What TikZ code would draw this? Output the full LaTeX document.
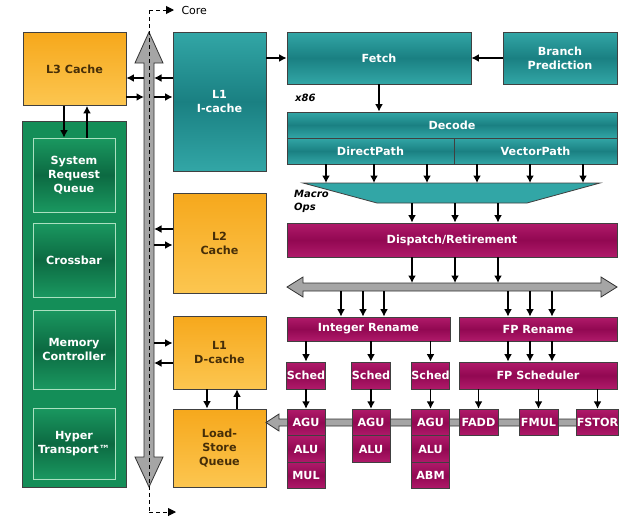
\documentclass[tikz,border=0pt]{standalone}
\usepackage{fontspec}
\setmainfont{DejaVu Sans}
\usepackage{tikz}
\usetikzlibrary{arrows.meta}
\definecolor{tealL}{RGB}{50,166,166}
\definecolor{tealD}{RGB}{26,128,130}
\definecolor{magL}{RGB}{176,26,106}
\definecolor{magD}{RGB}{146,8,82}
\definecolor{orgT}{RGB}{246,168,28}
\definecolor{orgB}{RGB}{252,198,80}
\definecolor{orgtext}{RGB}{70,46,8}
\definecolor{grnO}{RGB}{20,142,88}
\definecolor{grnL}{RGB}{26,152,96}
\definecolor{grnD}{RGB}{12,106,66}
\definecolor{grnrim}{RGB}{170,224,192}
\definecolor{busgray}{RGB}{165,165,165}
\newcommand{\blkfont}{\fontsize{11.2}{14}\selectfont\bfseries}

\begin{document}
\begin{tikzpicture}[x=1pt,y=-1pt,
 blk/.style={draw=black!75,line width=0.8pt,inner sep=0pt,align=center,font=\blkfont},
 tealblk/.style={blk,top color=tealL,bottom color=tealL,middle color=tealD,text=white},
 magblk/.style={blk,top color=magL,bottom color=magL,middle color=magD,text=white},
 orgblk/.style={blk,top color=orgT,bottom color=orgB,text=orgtext},
 grnblk/.style={blk,draw=grnrim,top color=grnL,bottom color=grnL,middle color=grnD,text=white},
 unit/.style={magblk,minimum width=38,minimum height=26.5},
 arr/.style={-{Latex[length=7.5pt,width=8pt]},line width=1.5pt},
 bus/.style={fill=busgray,draw=black!80,line width=0.8pt},
 dsh/.style={line width=1pt,dash pattern=on 4pt off 3pt},
 tag/.style={font=\fontsize{10}{13}\selectfont\bfseries\itshape,align=left,inner sep=0pt}]
\fill[white] (0,0) rectangle (640,520);
\useasboundingbox (0,0) rectangle (640,520);
% left column
\node[orgblk,minimum width=103,minimum height=73] (l3) at (74.5,69) {L3 Cache};
\node[blk,fill=grnO,minimum width=104,minimum height=366] (grn) at (74.5,304) {};
\node[grnblk,minimum width=82,minimum height=74] (srq) at (74,175) {System\\Request\\Queue};
\node[grnblk,minimum width=82,minimum height=74] (xbar) at (74,260) {Crossbar};
\node[grnblk,minimum width=82,minimum height=79] (mctl) at (74,349.5) {Memory\\Controller};
\node[grnblk,minimum width=82,minimum height=71] (ht) at (74,443.5) {Hyper\\Transport™};
\draw[arr] ([xshift=-10.5pt]l3.south) -- ([xshift=-10pt]srq.north);
\draw[arr] ([xshift=13pt]srq.north) -- ([xshift=12.5pt]l3.south);
% core bus
\draw[bus] (149,32) -- (163,63) -- (154,63) -- (154,457) -- (163,457) -- (149,487)
 -- (135,457) -- (144,457) -- (144,63) -- (135,63) -- cycle;
\coordinate (busL) at (144,0);
\coordinate (busR) at (154,0);
\draw[dsh] (149,10) -- (149,512);
\draw[dsh,-{Triangle[length=8pt,width=8pt]}] (149,10) -- (174,10) node[right=7pt,inner sep=0pt,font=\fontsize{11}{13}\selectfont] (core) {Core};
\coordinate (coreout) at (176,512);
\draw[dsh,-{Triangle[length=8pt,width=8pt]}] (149,512) -- (coreout);
% caches
\node[tealblk,minimum width=93,minimum height=139] (icache) at (219.5,101.5) {L1\\I-cache};
\node[orgblk,minimum width=93,minimum height=100] (l2) at (219.5,243) {L2\\Cache};
\node[orgblk,minimum width=93,minimum height=73] (dcache) at (219.5,352.5) {L1\\D-cache};
\node[orgblk,minimum width=93,minimum height=78] (lsq) at (219.5,448) {Load-\\Store\\Queue};
\draw[arr] (busL |- 0,78) -- (l3.east |- 0,78);
\draw[arr] (l3.east |- 0,97) -- (busL |- 0,97);
\foreach \y in {78,229,363}
 \draw[arr] (icache.west |- 0,\y) -- (busR |- 0,\y);
\foreach \y in {97,245,343}
 \draw[arr] (busR |- 0,\y) -- (icache.west |- 0,\y);
\draw[arr] ([xshift=-12.5pt]dcache.south) -- ([xshift=-12.5pt]lsq.north);
\draw[arr] ([xshift=17.5pt]lsq.north) -- ([xshift=17.5pt]dcache.south);
% front end
\node[tealblk,minimum width=184,minimum height=52] (fetch) at (379,58) {Fetch};
\node[tealblk,minimum width=114,minimum height=52] (bp) at (560,58) {Branch\\Prediction};
\draw[arr] (icache.east |- fetch) -- (fetch.west);
\draw[arr] (bp.west) -- (fetch.east);
\node[tag,anchor=west] (x86) at (295,98) {x86};
\node[tealblk,minimum width=330,minimum height=26] (decode) at (452,125) {Decode};
\node[tealblk,minimum width=167,minimum height=26] (dpath) at (370.5,151) {DirectPath};
\node[tealblk,minimum width=163,minimum height=26] (vpath) at (535.5,151) {VectorPath};
\draw[arr] (fetch.south |- fetch.south) -- (fetch.south |- decode.north);
\draw[blk,middle color=tealD,top color=tealL,bottom color=tealL] (303,183) -- (600,183) -- (527,203) -- (377,203) -- cycle;
\coordinate (mtop) at (0,183);
\coordinate (mbot) at (0,203);
\node[tag,anchor=north west] (mops) at (294,190) {Macro\\Ops};
\foreach \x in {326,374,427}
 \draw[arr] (\x,0 |- dpath.south) -- (\x,0 |- mtop);
\foreach \x in {477,530,583}
 \draw[arr] (\x,0 |- vpath.south) -- (\x,0 |- mtop);
% dispatch
\node[magblk,minimum width=330,minimum height=34] (disp) at (452,240) {Dispatch/Retirement};
\foreach \x in {412,455,498}
 \draw[arr] (\x,0 |- mbot) -- (\x,0 |- disp.north);
\draw[bus] (287,287) -- (303,277) -- (303,283) -- (601,283) -- (601,277) -- (617,287)
 -- (601,297) -- (601,291) -- (303,291) -- (303,297) -- cycle;
\coordinate (hbusT) at (0,283);
\coordinate (hbusB) at (0,291);
\foreach \x in {412,455,498}
 \draw[arr] (\x,0 |- disp.south) -- (\x,0 |- hbusT);
% rename and schedulers
\node[magblk,minimum width=163,minimum height=24] (irn) at (368.5,329) {Integer Rename};
\node[magblk,minimum width=158,minimum height=24] (fprn) at (538,329) {FP Rename};
\foreach \x in {341,363,384}
 \draw[arr] (\x,0 |- hbusB) -- (\x,0 |- irn.north);
\foreach \x in {508,530,552}
 \draw[arr] (\x,0 |- hbusB) -- (\x,0 |- fprn.north);
\node[magblk,minimum width=38,minimum height=27] (s1) at (306,375.5) {Sched};
\node[magblk,minimum width=38,minimum height=27] (s2) at (371,375.5) {Sched};
\node[magblk,minimum width=38,minimum height=27] (s3) at (430.5,375.5) {Sched};
\node[magblk,minimum width=158,minimum height=27] (fpsch) at (538,375.5) {FP Scheduler};
\foreach \s in {s1,s2,s3}
 \draw[arr] (irn.south -| \s) -- (\s.north);
\foreach \x in {508,530,552}
 \draw[arr] (\x,0 |- fprn.south) -- (\x,0 |- fpsch.north);
% execution units
\draw[bus] (266,422.5) -- (279,414) -- (279,419) -- (595,419) -- (595,426) -- (279,426) -- (279,431) -- cycle;
\node[unit] (agu1) at (306,422.5) {AGU};
\node[unit] (alu1) at (306,449) {ALU};
\node[unit] (mul) at (306,475.5) {MUL};
\node[unit] (agu2) at (371,422.5) {AGU};
\node[unit] (alu2) at (371,449) {ALU};
\node[unit] (agu3) at (430.5,422.5) {AGU};
\node[unit] (alu3) at (430.5,449) {ALU};
\node[unit] (abm) at (430.5,475.5) {ABM};
\node[unit,minimum width=39] (fadd) at (478.5,422.5) {FADD};
\node[unit,minimum width=39] (fmul) at (538.5,422.5) {FMUL};
\node[unit,minimum width=39] (fstor) at (597.5,422.5) {FSTOR};
\foreach \s/\u in {s1/agu1,s2/agu2,s3/agu3}
 \draw[arr] (\s.south) -- (\u.north);
\foreach \u in {fadd,fmul,fstor}
 \draw[arr] (fpsch.south -| \u) -- (\u.north);
\end{tikzpicture}
\end{document}
